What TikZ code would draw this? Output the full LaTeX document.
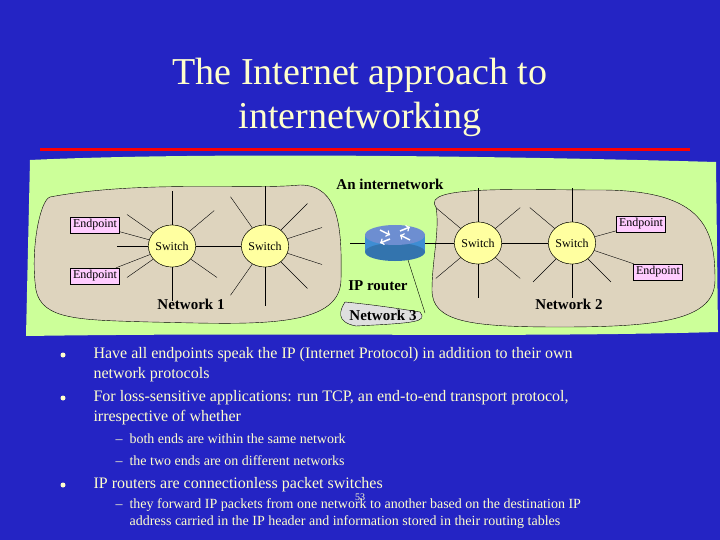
\documentclass[tikz,border=0pt]{standalone}
\usepackage{fontspec}
\setmainfont{Liberation Serif}
\usetikzlibrary{shapes.geometric}
\definecolor{bg}{RGB}{36,36,196}
\definecolor{ttl}{RGB}{255,255,204}
\definecolor{grn}{RGB}{204,255,153}
\definecolor{tan}{RGB}{222,212,190}
\definecolor{pinkb}{RGB}{255,204,255}
\definecolor{yel}{RGB}{255,255,160}
\begin{document}
\begin{tikzpicture}[x=1pt,y=-1pt,
  ep/.style={draw,fill=pinkb,inner sep=2.5pt,font=\fontsize{12}{13}\selectfont},
  sw/.style={draw,fill=yel,ellipse,minimum width=38pt,minimum height=42pt,inner sep=0pt,font=\fontsize{12}{13}\selectfont},
  lbl/.style={font=\fontsize{15}{17}\selectfont\bfseries},
  bul/.style={anchor=north west,text=ttl,font=\fontsize{16}{19.5}\selectfont,align=flush left,text width=530pt},
  sub/.style={anchor=north west,text=ttl,font=\fontsize{14}{17}\selectfont,align=flush left,text width=560pt},
  dot/.style={fill=ttl,circle,inner sep=0pt,minimum size=5pt}]
\fill[bg] (0,0) rectangle (720,540);
\useasboundingbox (0,0) rectangle (720,540);
\node[text=ttl,font=\fontsize{38}{44}\selectfont,align=center] (title) at (360,97) {The Internet approach to\\internetworking};
\draw[red,line width=3pt] (40,150) -- (690,150);
% green region
\fill[grn] (30,160) .. controls (200,152) and (500,156) .. (716,162) -- (718,332) .. controls (500,338) and (300,332) .. (26,336) -- cycle;
% networks
\draw[fill=tan] (50,197) .. controls (140,180) and (250,190) .. (300,185) .. controls (340,185) and (342,230) .. (341,280) .. controls (340,330) and (250,324) .. (150,322) .. controls (80,320) and (42,320) .. (36,290) .. controls (30,250) and (40,200) .. (50,197) -- cycle;
\draw[fill=tan] (436,207) .. controls (420,185) and (520,190) .. (600,190) .. controls (705,190) and (715,230) .. (715,280) .. controls (715,320) and (660,327) .. (560,327) .. controls (470,327) and (432,322) .. (432,290) .. controls (432,260) and (440,230) .. (436,207) -- cycle;
\draw[fill=gray!25] (345,302) .. controls (375,305) and (395,308) .. (420,312) .. controls (428,322) and (415,323) .. (356,326) .. controls (335,322) and (340,310) .. (345,302) -- cycle;
% spokes
\coordinate (c1) at (172,246);
\coordinate (c2) at (265,246);
\coordinate (c3) at (478,243);
\coordinate (c4) at (572,243);
\foreach \a in {90,35,145,180,215,270,320}{\draw (c1) -- ++(\a:55);}
\foreach \a in {90,45,125,235,270,315,18,-18}{\draw (c2) -- ++(\a:60);}
\foreach \a in {90,40,140,220,270,320}{\draw (c3) -- ++(\a:55);}
\foreach \a in {90,45,135,220,270}{\draw (c4) -- ++(\a:55);}
\node[sw] (s1) at (c1) {Switch};
\node[sw] (s2) at (c2) {Switch};
\node[sw] (s3) at (c3) {Switch};
\node[sw] (s4) at (c4) {Switch};
\node[ep] (e1) at (95,225) {Endpoint};
\node[ep] (e2) at (95,276) {Endpoint};
\node[ep] (e3) at (641,224) {Endpoint};
\node[ep] (e4) at (658,272) {Endpoint};
\node[lbl] (n1) at (191,304) {Network 1};
\node[lbl] (n2) at (569,304) {Network 2};
\node[lbl] (n3) at (383,315) {Network 3};
\node[lbl] (ipr) at (378,286) {IP router};
\node[lbl] (inet) at (390,184) {An internetwork};
% router
\fill[cyan!60!blue!80] (365,235) rectangle (425,252);
\fill[cyan!60!blue!80!black] (395,252) ellipse (30 and 9);
\fill[cyan!40!blue!60] (395,235) ellipse (30 and 10);
\draw[white,line width=1.5pt,->] (380,230) -- (390,235);
\draw[white,line width=1.5pt,->] (410,240) -- (400,235);
\draw[white,line width=1.5pt,->] (400,231) -- (410,227);
\draw[white,line width=1.5pt,->] (390,239) -- (380,243);
\node[inner sep=0pt,minimum width=60pt,minimum height=34pt] (router) at (395,243) {};
\draw (e1) -- (s1); \draw (e2) -- (s1); \draw (s1) -- (s2);
\draw (s3) -- (s4); \draw (s4) -- (e3); \draw (s4) -- (e4);
\draw (router.west) -- ++(-15,0);
\draw (router.east) -- (s3);
\draw (408,260) -- (425,313);
\node[sw] at (c1) {Switch};
\node[sw] at (c2) {Switch};
\node[sw] at (c3) {Switch};
\node[sw] at (c4) {Switch};
% text
\node[dot] (d1) at (63,355) {};
\node[bul] (b1) at (90,344) {Have all endpoints speak the IP (Internet Protocol) in addition to their own network protocols};
\node[dot] (d2) at (63,398) {};
\node[bul] (b2) at (90,387) {For loss-sensitive applications: run TCP, an end-to-end transport protocol, irrespective of whether};
\node[sub] (s1t) at (112,430) {–\hspace{7pt}both ends are within the same network};
\node[sub] (s2t) at (112,452) {–\hspace{7pt}the two ends are on different networks};
\node[dot] (d3) at (63,485) {};
\node[bul] (b3) at (90,474) {IP routers are connectionless packet switches};
\node[sub] (s3t) at (112,495) {–\hspace{7pt}they forward IP packets from one network to another based on the destination IP\\\hspace{14pt}address carried in the IP header\ and information stored in their routing tables};
\node[text=ttl,font=\fontsize{10}{11}\selectfont] (pg) at (360,497) {53};
\end{tikzpicture}
\end{document}
